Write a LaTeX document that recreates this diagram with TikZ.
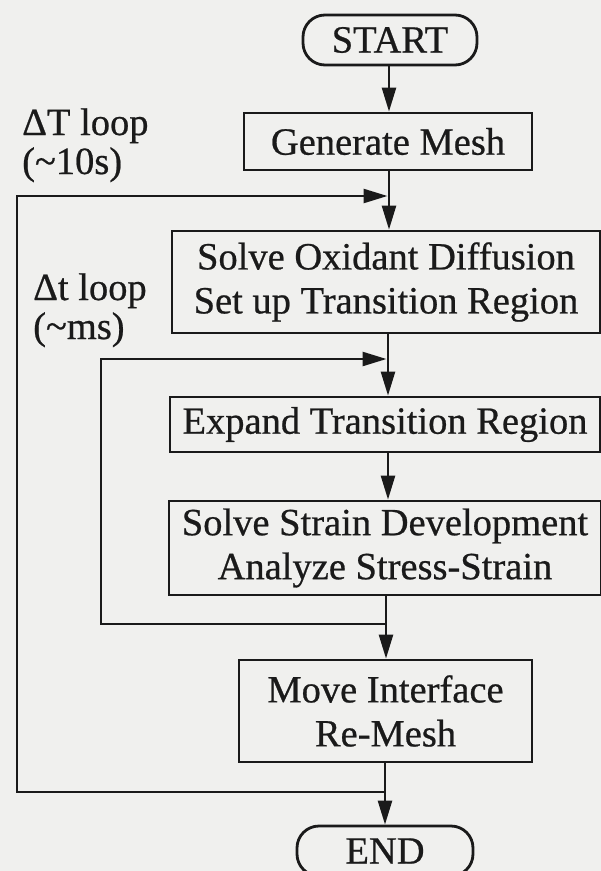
\documentclass[tikz,border=0pt]{standalone}
\usepackage{fontspec}
\setmainfont{Liberation Serif}[UprightFeatures={FakeBold=0.6}]
\usetikzlibrary{arrows.meta}
\definecolor{paper}{RGB}{240,240,238}
\definecolor{ink}{RGB}{26,26,26}
\begin{document}
\begin{tikzpicture}[x=1pt,y=-1pt,
  font=\fontsize{38.5}{44}\selectfont,
  every node/.style={text=ink},
  stepbox/.style={draw=ink, line width=2.8pt, inner sep=0pt, align=center},
  terminal/.style={stepbox, rounded corners=22pt},
  flow/.style={draw=ink, line width=2.5pt, -{Triangle[length=24pt,width=14pt]}},
  looplabel/.style={anchor=base west, inner sep=0pt}]

\useasboundingbox (0,0) rectangle (601,871);
\fill[paper] (0,0) rectangle (601,871);
\clip (0,0) rectangle (601,871);

% process steps
\node[terminal, minimum width=174pt, minimum height=50pt] (start) at (390,40) {START};
\node[stepbox, minimum width=288pt, minimum height=57pt] (mesh) at (388,141.5) {Generate Mesh};
\node[stepbox, minimum width=428pt, minimum height=102pt] (oxid) at (386,282) {Solve Oxidant Diffusion\\Set up Transition Region};
\node[stepbox, minimum width=430pt, minimum height=55pt] (expand) at (385,424.5) {Expand Transition Region};
\node[stepbox, minimum width=432pt, minimum height=94pt] (strain) at (385,548) {Solve Strain Development\\Analyze Stress-Strain};
\node[stepbox, minimum width=293pt, minimum height=102pt] (move) at (385.5,711) {Move Interface\\Re-Mesh};
\node[terminal, minimum width=176pt, minimum height=50pt] (stop) at (385,851) {END};

% junctions of the two loops with the main flow
\coordinate (jT) at (389,196);
\coordinate (jt) at (388,359);
\coordinate (xt) at (386,624);
\coordinate (xT) at (385,792);
\coordinate (colT) at (17,0);
\coordinate (colt) at (101,0);

% main flow
\draw[flow] (start.south -| jT) -- (mesh.north -| jT);
\draw[flow] (mesh.south -| jT) -- (oxid.north -| jT);
\draw[flow] (oxid.south -| jt) -- (expand.north -| jt);
\draw[flow] (expand.south -| jt) -- (strain.north -| jt);
\draw[flow] (strain.south -| xt) -- (move.north -| xt);
\draw[flow] (move.south -| xT) -- (stop.north -| xT);

% feedback loops
\draw[flow, shorten >=1.5pt] (xT) -- (xT -| colT) |- (jT);
\draw[flow, shorten >=1.5pt] (xt) -- (xt -| colt) |- (jt);

% loop labels
\node[looplabel] (lblT1) at (22,135) {ΔT loop};
\node[looplabel] (lblT2) at (22,174) {(\textasciitilde10s)};
\node[looplabel] (lblt1) at (33,300) {Δt loop};
\node[looplabel] (lblt2) at (33,339) {(\textasciitilde ms)};
\end{tikzpicture}
\end{document}
